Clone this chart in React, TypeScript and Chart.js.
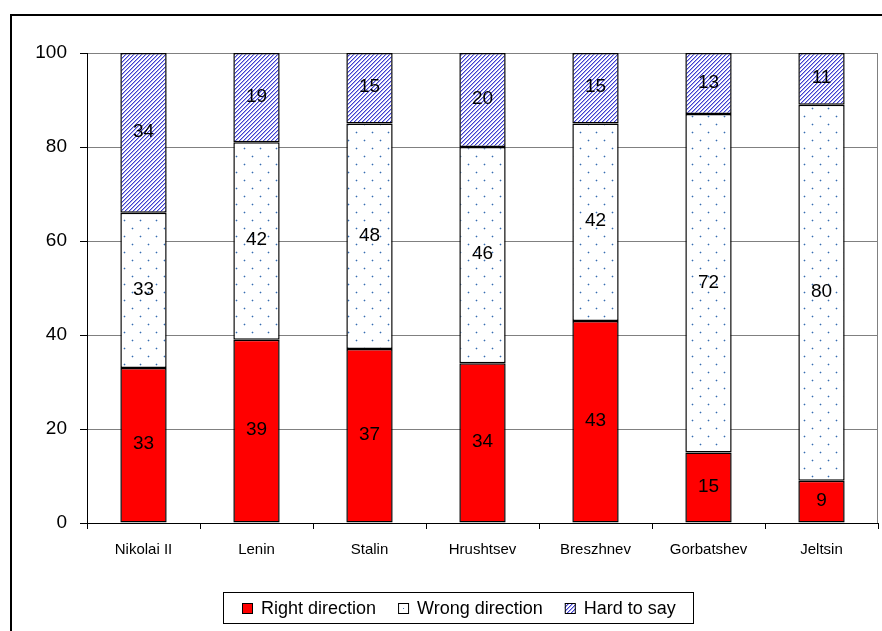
import React, { useEffect, useRef } from "react";
import { Chart, registerables } from "chart.js";

Chart.register(...registerables);

const categories = ["Nikolai II", "Lenin", "Stalin", "Hrushtsev", "Breszhnev", "Gorbatshev", "Jeltsin"];
const rightDirection = [33, 39, 37, 34, 43, 15, 9];
const wrongDirection = [33, 42, 48, 46, 42, 72, 80];
const hardToSay = [34, 19, 15, 20, 15, 13, 11];
const seriesLabels = ["Right direction", "Wrong direction", "Hard to say"];
const yMin = 0;
const yMax = 100;
const yStep = 20;

const FONT = "'Liberation Sans', Arial, sans-serif";

function makeHatch(): CanvasPattern | string {
  const c = document.createElement("canvas");
  c.width = 4;
  c.height = 4;
  const ctx = c.getContext("2d");
  if (!ctx) return "#6666bb";
  for (let x = 0; x < 4; x++) {
    for (let y = 0; y < 4; y++) {
      const k = (x + y) % 4;
      ctx.fillStyle = k === 3 ? "#4040cc" : k === 0 ? "#a8a8f0" : "#ffffff";
      ctx.fillRect(x, y, 1, 1);
    }
  }
  return ctx.createPattern(c, "repeat") || "#6666bb";
}

function makeDots(): CanvasPattern | string {
  const c = document.createElement("canvas");
  c.width = 16;
  c.height = 16;
  const ctx = c.getContext("2d");
  if (!ctx) return "#ffffff";
  ctx.fillStyle = "#ffffff";
  ctx.fillRect(0, 0, 16, 16);
  const dot = (x: number, y: number) => {
    ctx.fillStyle = "#c2d4ea";
    ctx.fillRect(x - 1, y, 1, 1);
    ctx.fillRect(x + 1, y, 1, 1);
    ctx.fillRect(x, y - 1, 1, 1);
    ctx.fillRect(x, y + 1, 1, 1);
    ctx.fillStyle = "#3a6cae";
    ctx.fillRect(x, y, 1, 1);
  };
  dot(4, 4);
  dot(12, 12);
  return ctx.createPattern(c, "repeat") || "#ffffff";
}

export default function App() {
  const ref = useRef<HTMLCanvasElement>(null);

  useEffect(() => {
    const canvas = ref.current;
    if (!canvas) return;
    const hatch = makeHatch();
    const dots = makeDots();

    const framePlugin = {
      id: "frame",
      beforeDraw(chart: any) {
        const ctx = chart.ctx;
        ctx.save();
        ctx.fillStyle = "#ffffff";
        ctx.fillRect(0, 0, chart.width, chart.height);
        ctx.strokeStyle = "#000000";
        ctx.lineWidth = 2;
        ctx.strokeRect(11, 15, 2000, 2000);
        ctx.restore();
      },
      afterDraw(chart: any) {
        const ctx = chart.ctx;
        const a = chart.chartArea;
        ctx.save();
        ctx.strokeStyle = "#808080";
        ctx.lineWidth = 1;
        ctx.beginPath();
        ctx.moveTo(Math.round(a.right) - 0.5, a.top);
        ctx.lineTo(Math.round(a.right) - 0.5, a.bottom);
        ctx.stroke();
        ctx.restore();
      },
    };

    const valueLabels = {
      id: "valueLabels",
      afterDatasetsDraw(chart: any) {
        const ctx = chart.ctx;
        ctx.save();
        ctx.font = `19px ${FONT}`;
        ctx.fillStyle = "#000000";
        ctx.textAlign = "center";
        ctx.textBaseline = "middle";
        chart.data.datasets.forEach((ds: any, i: number) => {
          const meta = chart.getDatasetMeta(i);
          meta.data.forEach((el: any, j: number) => {
            const p = el.getCenterPoint();
            ctx.fillText(String(ds.data[j]), p.x, p.y - 1);
          });
        });
        ctx.restore();
      },
    };

    const boxLegend = {
      id: "boxLegend",
      afterDraw(chart: any) {
        const ctx = chart.ctx;
        ctx.save();
        ctx.font = `18px ${FONT}`;
        const box = 11;
        const gap = 8;
        const itemGap = 22;
        const ds = chart.data.datasets;
        const widths = ds.map((d: any) => box + gap + ctx.measureText(d.label).width);
        const total = widths.reduce((s: number, w: number) => s + w, 0) + itemGap * (ds.length - 1);
        const frameL = 223.5, frameT = 592.5, frameW = 470, frameH = 31;
        ctx.strokeStyle = "#000000";
        ctx.lineWidth = 1;
        ctx.strokeRect(frameL, frameT, frameW, frameH);
        let x = Math.round(frameL + frameW / 2 - total / 2);
        const cy = frameT + frameH / 2;
        ds.forEach((d: any, i: number) => {
          const by = Math.round(cy - box / 2);
          ctx.fillStyle = i === 1 ? "#ffffff" : d.backgroundColor;
          ctx.fillRect(x, by, box, box);
          ctx.strokeStyle = "#000000";
          ctx.lineWidth = 1;
          ctx.strokeRect(x + 0.5, by + 0.5, box - 1, box - 1);
          if (i === 1) {
            ctx.fillStyle = "#3a6cae";
            ctx.fillRect(x + 5, by + 5, 1, 1);
          }
          ctx.fillStyle = "#000000";
          ctx.textAlign = "left";
          ctx.textBaseline = "middle";
          ctx.fillText(d.label, x + box + gap, cy + 1);
          x += widths[i] + itemGap;
        });
        ctx.restore();
      },
    };

    const chart = new Chart(canvas, {
      type: "bar",
      data: {
        labels: categories,
        datasets: [
          {
            label: seriesLabels[0],
            data: rightDirection,
            backgroundColor: "#ff0000",
            borderColor: "#000000",
            borderWidth: 1.5,
            borderSkipped: false,
          },
          {
            label: seriesLabels[1],
            data: wrongDirection,
            backgroundColor: dots as any,
            borderColor: "#000000",
            borderWidth: 1.5,
            borderSkipped: false,
          },
          {
            label: seriesLabels[2],
            data: hardToSay,
            backgroundColor: hatch as any,
            borderColor: "#000000",
            borderWidth: 1.5,
            borderSkipped: false,
          },
        ],
      },
      options: {
        animation: false,
        responsive: false,
        devicePixelRatio: 1,
        layout: { padding: { left: 0, top: 53, right: 4, bottom: 68 } },
        datasets: { bar: { categoryPercentage: 1, barPercentage: 0.41 } },
        plugins: {
          legend: { display: false },
          tooltip: { enabled: false },
        },
        scales: {
          x: {
            stacked: true,
            afterFit: (s: any) => {
              s.height = 40;
            },
            grid: {
              display: true,
              drawOnChartArea: false,
              drawTicks: true,
              tickLength: 6,
              tickColor: "#000000",
              offset: true,
            },
            border: { display: true, color: "#000000", width: 1 },
            ticks: { color: "#000000", font: { family: FONT, size: 15 }, padding: 12 },
          },
          y: {
            stacked: true,
            min: yMin,
            max: yMax,
            afterFit: (s: any) => {
              s.width = 87;
            },
            grid: { color: "#808080", tickColor: "#000000", tickLength: 7, lineWidth: 1 },
            border: { display: true, color: "#000000", width: 1 },
            ticks: { stepSize: yStep, color: "#000000", font: { family: FONT, size: 19 }, padding: 13 },
          },
        },
      },
      plugins: [framePlugin, valueLabels, boxLegend],
    });

    return () => chart.destroy();
  }, []);

  return (
    <div style={{ position: "fixed", left: 0, top: 0, width: 882, height: 631, background: "#fff" }}>
      <canvas ref={ref} width={882} height={631} style={{ display: "block", width: 882, height: 631 }} />
    </div>
  );
}
